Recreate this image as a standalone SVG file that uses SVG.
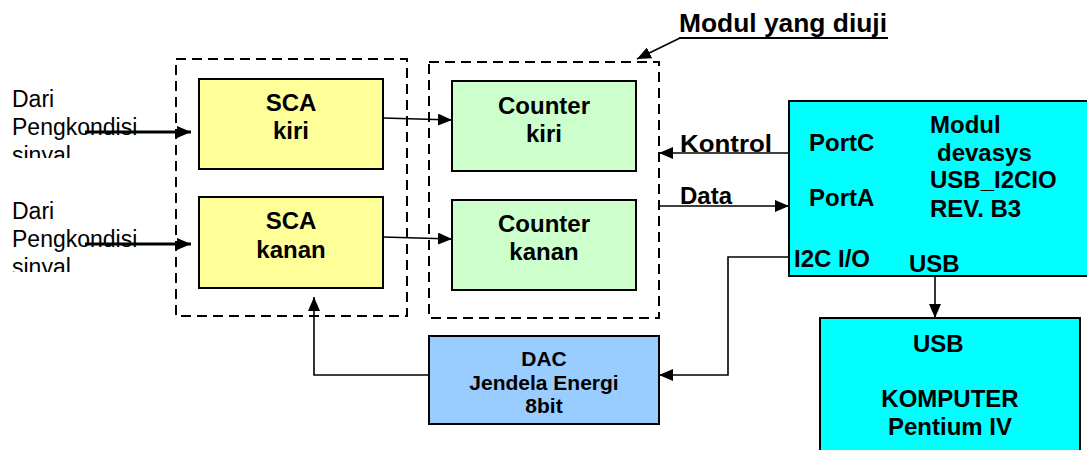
<svg xmlns="http://www.w3.org/2000/svg" width="1087" height="450" viewBox="0 0 1087 450">
<style>
.b{font-family:"Liberation Sans",Arial,sans-serif;font-weight:bold;font-size:24px;fill:#000}
.r{font-family:"Liberation Sans",Arial,sans-serif;font-size:23px;fill:#000}
.box{stroke:#000;stroke-width:2}
.dash{fill:none;stroke:#000;stroke-width:2;stroke-dasharray:10,6}
.ln{fill:none;stroke:#000;stroke-width:1.6}
.c{text-anchor:middle}
</style>
<defs>
<marker id="ah" viewBox="0 0 14 12" refX="14" refY="6" markerWidth="14" markerHeight="12" markerUnits="userSpaceOnUse" orient="auto"><path d="M0,0 L14,6 L0,12 z" fill="#000"/></marker>
<clipPath id="c1"><rect x="0" y="80" width="200" height="78"/></clipPath>
<clipPath id="c2"><rect x="0" y="195" width="200" height="77"/></clipPath>
</defs>
<g id="input1" clip-path="url(#c1)"><text class="r" x="12" y="107">Dari</text><text class="r" x="12" y="135">Pengkondisi</text><text class="r" x="12" y="163">sinyal</text></g>
<g id="input2" clip-path="url(#c2)"><text class="r" x="12" y="219">Dari</text><text class="r" x="12" y="247">Pengkondisi</text><text class="r" x="12" y="275">sinyal</text></g>
<g id="group-sca"><rect class="dash" x="176" y="59" width="231" height="257"/></g>
<g id="group-counter"><rect class="dash" x="429" y="62" width="230" height="256"/></g>
<g id="sca-kiri"><rect class="box" x="199" y="79" width="184" height="90" fill="#ffff99"/><text class="b c" x="291" y="111">SCA</text><text class="b c" x="291" y="139">kiri</text></g>
<g id="sca-kanan"><rect class="box" x="199" y="197" width="184" height="91" fill="#ffff99"/><text class="b c" x="291" y="229">SCA</text><text class="b c" x="291" y="258">kanan</text></g>
<g id="counter-kiri"><rect class="box" x="452" y="81" width="184" height="90" fill="#ccffcc"/><text class="b c" x="544" y="114">Counter</text><text class="b c" x="544" y="142">kiri</text></g>
<g id="counter-kanan"><rect class="box" x="452" y="200" width="184" height="90" fill="#ccffcc"/><text class="b c" x="544" y="232">Counter</text><text class="b c" x="544" y="260">kanan</text></g>
<g id="dac"><rect class="box" x="429" y="336" width="230" height="88" fill="#99ccff"/><text class="b c" x="544" y="366" style="font-size:21px">DAC</text><text class="b c" x="544" y="390" style="font-size:21px">Jendela Energi</text><text class="b c" x="544" y="413" style="font-size:21px">8bit</text></g>
<g id="modul-devasys"><rect class="box" x="789" y="101" width="310" height="175" fill="#00ffff"/><text class="b" x="809" y="151">PortC</text><text class="b" x="809" y="206">PortA</text><text class="b" x="930" y="133">Modul</text><text class="b" x="937" y="161">devasys</text><text class="b" x="930" y="188">USB_I2CIO</text><text class="b" x="930" y="217">REV. B3</text><text class="b" x="794" y="267">I2C I/O</text><text class="b" x="909" y="272">USB</text></g>
<g id="komputer"><rect class="box" x="820" y="318" width="260" height="140" fill="#00ffff"/><text class="b" x="913" y="352">USB</text><text class="b c" x="950" y="407">KOMPUTER</text><text class="b c" x="950" y="435">Pentium IV</text></g>
<g id="label-modul-uji"><text class="b" x="679" y="32" style="font-size:25px" textLength="208" lengthAdjust="spacingAndGlyphs">Modul yang diuji</text><line x1="679" y1="38" x2="888" y2="38" stroke="#000" stroke-width="2"/></g>
<g id="connectors">
<line x1="85" y1="132" x2="191" y2="132" stroke="#000" stroke-width="3" marker-end="url(#ah)"/>
<line x1="85" y1="244" x2="191" y2="244" stroke="#000" stroke-width="3" marker-end="url(#ah)"/>
<line class="ln" x1="383" y1="118" x2="452" y2="120" marker-end="url(#ah)"/>
<line class="ln" x1="383" y1="237" x2="452" y2="239" marker-end="url(#ah)"/>
<line class="ln" x1="789" y1="153" x2="659" y2="153" marker-end="url(#ah)"/>
<line class="ln" x1="659" y1="206" x2="789" y2="206" marker-end="url(#ah)"/>
<path class="ln" d="M789 257 H728 V375 H659" marker-end="url(#ah)"/>
<path class="ln" d="M429 375 H314 V297" marker-end="url(#ah)"/>
<line class="ln" x1="935" y1="276" x2="935" y2="318" marker-end="url(#ah)"/>
<line class="ln" x1="680" y1="38" x2="637" y2="59" stroke-width="2" marker-end="url(#ah)"/>
<text class="b" x="680" y="152" textLength="92" lengthAdjust="spacingAndGlyphs">Kontrol</text>
<text class="b" x="680" y="204">Data</text>
</g>
</svg>
